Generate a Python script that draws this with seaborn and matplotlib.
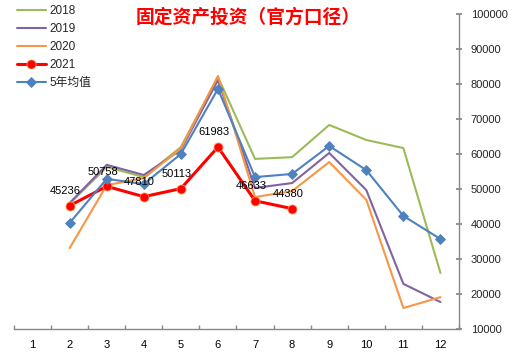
import pandas as pd
import numpy as np
import matplotlib
matplotlib.use("Agg")
import matplotlib.pyplot as plt
import seaborn as sns

# 月份（1月无数据）
months = [2, 3, 4, 5, 6, 7, 8, 9, 10, 11, 12]
v2018 = [45800, 56300, 53400, 62000, 82000, 58600, 59100, 68300, 64000, 61700, 26000]
v2019 = [46000, 56900, 54000, 61200, 81100, 50300, 51700, 60300, 49700, 22900, 17700]
v2020 = [33100, 51100, 53100, 61600, 82300, 47700, 49400, 57700, 46900, 16000, 19100]
months_2021 = [2, 3, 4, 5, 6, 7, 8]
v2021 = [45236, 50758, 47810, 50113, 61983, 46633, 44380]
avg5 = [40300, 52900, 51400, 60000, 78600, 53400, 54300, 62300, 55400, 42300, 35700]

sns.set_theme(style="white")
plt.rcParams['font.family'] = ['Liberation Sans', 'Noto Sans CJK SC', 'DejaVu Sans']

fig = plt.figure(figsize=(5.17, 3.61), dpi=100)
ax = fig.add_axes([14 / 517, 1 - 329 / 361, 445 / 517, 315 / 361])

series = [
    ("2018", months, v2018, "#9BBB59", None, 1.5),
    ("2019", months, v2019, "#8064A2", None, 1.5),
    ("2020", months, v2020, "#F79646", None, 1.5),
    ("2021", months_2021, v2021, "#FF0000", "o", 2.2),
    ("5年均值", months, avg5, "#4F81BD", "D", 1.5),
]
for name, xs, ys, col, mk, lw in series:
    df = pd.DataFrame({"month": xs, "value": ys})
    sns.lineplot(data=df, x="month", y="value", ax=ax, color=col, lw=lw,
                 marker=mk, markersize=6.5 if mk == "o" else 5.5,
                 markeredgecolor="#F79646" if mk == "o" else col,
                 markeredgewidth=0.6, label=name)

# 2021 数据标签
for m, v in zip(months_2021, v2021):
    ax.annotate(str(v), (m, v), xytext=(-3, 7), textcoords="offset points",
                ha="center", va="bottom", fontsize=8, color="black")

ax.set_xlim(0.5, 12.5)
ax.set_ylim(10000, 100000)
ax.set_yticks(np.arange(10000, 100001, 10000))
ax.yaxis.tick_right()
ax.set_xticks(range(1, 13))
ax.set_xticks(np.arange(0.5, 12.6, 1), minor=True)
ax.tick_params(axis="x", which="major", length=0, labelsize=8, pad=8, colors="black")
ax.tick_params(axis="x", which="minor", direction="in", length=3, color="#888888", bottom=True)
ax.tick_params(axis="y", which="major", direction="inout", length=5, color="#888888",
               labelsize=8, pad=6, right=True, left=False)
ax.set_xlabel("")
ax.set_ylabel("")
for s in ["left", "top"]:
    ax.spines[s].set_visible(False)
for s in ["right", "bottom"]:
    ax.spines[s].set_color("#888888")
    ax.spines[s].set_linewidth(1)

fig.text(248 / 517, 1 - 17 / 361, "固定资产投资（官方口径）", color="red",
         fontsize=13.5, fontweight="bold", ha="center", va="center",
         family=['Noto Sans CJK SC', 'DejaVu Sans'])

leg = ax.legend(loc="upper left", bbox_to_anchor=(-0.01, 1.05), frameon=False,
                fontsize=8.5, handlelength=2.5, labelspacing=0.5, borderaxespad=0.2,
                handletextpad=0.3)
for t in leg.get_texts():
    t.set_family(['Liberation Sans', 'Noto Sans CJK SC', 'DejaVu Sans'])

fig.savefig("out.png", dpi=100)
